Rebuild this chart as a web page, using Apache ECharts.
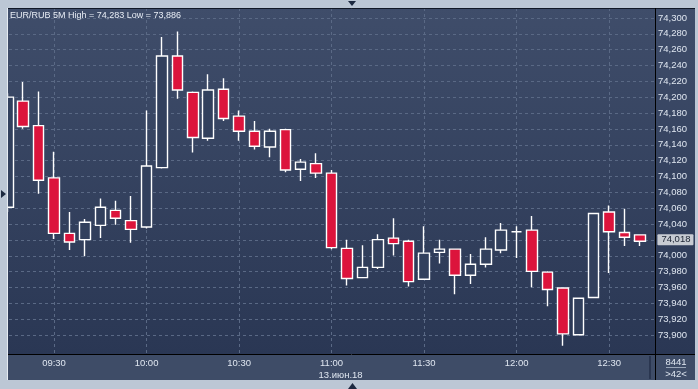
<!DOCTYPE html>
<html><head><meta charset="utf-8">
<script src="https://cdn.jsdelivr.net/npm/echarts@6/dist/echarts.min.js"></script>
<style>html,body{margin:0;padding:0;background:#bcc7d5;}#c{width:698px;height:389px;}</style>
</head><body><div id="c"></div>
<script>
// ---- data ----
const symbolName = 'EUR/RUB 5M';
const dateLabel = '13.июн.18';
const dateLabelAt = '11:00';
const times = ['09:15','09:20','09:25','09:30','09:35','09:40','09:45','09:50','09:55','10:00',
  '10:05','10:10','10:15','10:20','10:25','10:30','10:35','10:40','10:45','10:50',
  '10:55','11:00','11:05','11:10','11:15','11:20','11:25','11:30','11:35','11:40',
  '11:45','11:50','11:55','12:00','12:05','12:10','12:15','12:20','12:25','12:30',
  '12:35','12:40'];
const opens  = [74.061,74.195,74.164,74.098,74.028,74.020,74.038,74.057,74.044,74.036,
  74.111,74.252,74.206,74.148,74.210,74.176,74.157,74.137,74.159,74.109,
  74.116,74.104,74.009,73.972,73.985,74.022,74.018,73.970,74.004,74.008,
  73.975,73.989,74.007,74.030,74.032,73.979,73.959,73.900,73.947,74.055,
  74.029,74.026];
const closes = [74.200,74.163,74.095,74.028,74.017,74.042,74.061,74.047,74.033,74.113,
  74.252,74.209,74.149,74.209,74.173,74.157,74.138,74.157,74.108,74.118,
  74.104,74.010,73.971,73.985,74.020,74.015,73.967,74.003,74.008,73.975,
  73.989,74.008,74.032,74.030,73.980,73.957,73.901,73.946,74.053,74.030,
  74.023,74.018];
const lows   = [74.055,74.160,74.078,74.021,74.007,73.999,74.022,74.039,74.016,74.034,
  74.110,74.198,74.130,74.145,74.170,74.145,74.134,74.124,74.105,74.094,
  74.098,74.008,73.962,73.972,73.983,74.000,73.961,73.970,73.990,73.951,
  73.964,73.985,74.003,73.997,73.960,73.936,73.886,73.900,73.947,73.978,
  74.012,74.012];
const highs  = [74.205,74.219,74.207,74.131,74.055,74.046,74.072,74.069,74.075,74.183,
  74.276,74.283,74.207,74.229,74.224,74.183,74.170,74.160,74.160,74.122,
  74.129,74.108,74.020,74.013,74.027,74.047,74.020,74.037,74.020,74.008,
  74.002,74.023,74.041,74.037,74.050,73.980,73.959,73.946,74.053,74.063,
  74.059,74.026];
const xTickLabels = ['09:30','10:00','10:30','11:00','11:30','12:00','12:30'];
const yTickMin = 73.9, yTickMax = 74.3, yTickStep = 0.02;
const xOrigin = '09:00', xEnd = '12:45';
const yViewMin = 73.8756, yViewMax = 74.3126;
const volumeText = '8441';

// ---- helpers ----
function minutes(t) {
  const p = t.split(':').map(Number);
  const o = xOrigin.split(':').map(Number);
  return (p[0]*60 + p[1]) - (o[0]*60 + o[1]);
}
function fmt(v) { return v.toFixed(3).replace('.', ','); }
function pad(n) { return (n < 10 ? '0' : '') + n; }
function hhmm(v) {
  const o = xOrigin.split(':').map(Number);
  const tot = Math.round(o[0]*60 + o[1] + v);
  return pad(Math.floor(tot/60)) + ':' + pad(tot % 60);
}

const source = times.map((t, i) => [minutes(t), opens[i], closes[i], lows[i], highs[i]]);
const hi = Math.max.apply(null, highs), lo = Math.min.apply(null, lows);
const lastClose = closes[closes.length-1];

const FONT = 'Liberation Sans, Arial, sans-serif';
const grad = {type:'linear', x:0, y:0, x2:0, y2:1, colorStops:[
  {offset:0, color:'#3f4d6a'}, {offset:1, color:'#2a3754'}]};
const BORDER = '#bcc7d5';

const chart = echarts.init(document.getElementById('c'));
chart.setOption({
  backgroundColor: BORDER,
  animation: false,
  textStyle: {fontFamily: FONT},
  title: {
    text: symbolName + ' High = ' + fmt(hi) + ' Low = ' + fmt(lo),
    left: 9, top: 8, padding: [3, 0, 0, 1],
    textStyle: {color:'#e8edf5', fontSize: 9, fontWeight:'normal', fontFamily: FONT}
  },
  grid: [
    {left: -38.5, right: 42.6, top: 8, bottom: 35, containLabel: false, outerBoundsMode: 'none'},
    {left: 9, right: 43, top: 18, bottom: 54, containLabel: false, outerBoundsMode: 'none'}
  ],
  dataset: {source: source},
  xAxis: [
    {
      type: 'value', gridIndex: 0, min: 0, max: minutes(xEnd), interval: 30,
      axisLine: {show: false}, axisTick: {show: false},
      splitLine: {show: true, lineStyle: {color: '#5a6985', type: [3, 3], width: 1}},
      axisLabel: {
        color: '#dfe6f0', fontSize: 9.5, margin: 3, fontFamily: FONT, lineHeight: 12,
        showMinLabel: false, showMaxLabel: false, hideOverlap: false,
        formatter: function (v) {
          const t = hhmm(v);
          if (xTickLabels.indexOf(t) < 0) return '';
          return t === dateLabelAt ? t + '\n{d|' + dateLabel + '}' : t;
        },
        rich: {d: {color:'#dfe6f0', fontSize: 9.5, fontFamily: FONT, lineHeight: 12, padding: [0,0,0,18]}}
      }
    },
    {type: 'value', gridIndex: 1, show: false, min: 0, max: 1}
  ],
  yAxis: [
    {type: 'value', gridIndex: 0, min: yViewMin, max: yViewMax, show: false},
    {
      type: 'value', gridIndex: 1, position: 'right',
      min: yTickMin, max: yTickMax, interval: yTickStep,
      axisLine: {show: false}, axisTick: {show: false},
      splitLine: {show: true, lineStyle: {color: '#5a6985', type: [3, 3], width: 1}},
      axisLabel: {color: '#dfe6f0', fontSize: 9.5, margin: 3, fontFamily: FONT,
        formatter: function (v) { return fmt(v); }}
    }
  ],
  series: [{
    type: 'candlestick', xAxisIndex: 0, yAxisIndex: 0,
    encode: {x: 0, y: [1, 2, 3, 4]},
    barWidth: 11, clip: false,
    itemStyle: {
      color: '#32405d', color0: '#dc143c',
      borderColor: '#ffffff', borderColor0: '#ffffff', borderWidth: 1.4
    },
    markLine: {
      silent: true, symbol: ['none', 'none'], animation: false,
      lineStyle: {color: 'rgba(0,0,0,0)', width: 0},
      label: {
        show: true, position: 'end', distance: 2, formatter: function () { return fmt(lastClose); },
        backgroundColor: '#c7cbd2', color: '#1a2232', fontSize: 9.5, fontFamily: FONT,
        padding: [1, 3, 0, 4], borderRadius: 1
      },
      data: [{yAxis: lastClose}]
    }
  }],
  graphic: [
    {type:'rect', z:-10, silent:true, shape:{x:8, y:8, width:687, height:346}, style:{fill: grad}},
    {type:'rect', z:-10, silent:true, shape:{x:8, y:355, width:687, height:25}, style:{fill:'#3e4c67'}},
    {type:'rect', z:90, silent:true, shape:{x:0, y:0, width:7.5, height:389}, style:{fill: BORDER}},
    {type:'line', z:100, silent:true, shape:{x1:8, y1:8.5, x2:695, y2:8.5}, style:{stroke:'#111826', lineWidth:1}},
    {type:'line', z:100, silent:true, shape:{x1:8, y1:354.5, x2:695, y2:354.5}, style:{stroke:'#000000', lineWidth:1}},
    {type:'line', z:100, silent:true, shape:{x1:655.5, y1:8, x2:655.5, y2:380}, style:{stroke:'#000000', lineWidth:1}},
    {type:'line', z:100, silent:true, shape:{x1:7.5, y1:8, x2:7.5, y2:380}, style:{stroke:'#e6ebf1', lineWidth:1}},
    {type:'line', z:100, silent:true, shape:{x1:650, y1:356, x2:650, y2:379}, style:{stroke:'#2a3650', lineWidth:2}},
    {type:'line', z:100, silent:true, shape:{x1:666, y1:367.5, x2:686, y2:367.5}, style:{stroke:'#9aa6b8', lineWidth:1}},
    {type:'text', z:100, silent:true, x:676, y:362, style:{text: volumeText, fill:'#dfe6f0', font:'9.5px ' + FONT, align:'center', verticalAlign:'middle', textAlign:'center', textVerticalAlign:'middle'}},
    {type:'text', z:100, silent:true, x:676, y:374.5, style:{text: '>' + times.length + '<', fill:'#dfe6f0', font:'9.5px ' + FONT, align:'center', verticalAlign:'middle', textAlign:'center', textVerticalAlign:'middle'}},
    {type:'polygon', z:100, silent:true, shape:{points:[[348,1],[356,1],[352,6]]}, style:{fill:'#1c2940'}},
    {type:'polygon', z:100, silent:true, shape:{points:[[348,389],[357,389],[352.5,383]]}, style:{fill:'#1c2940'}},
    {type:'polygon', z:100, silent:true, shape:{points:[[1,190],[1,198],[6,194]]}, style:{fill:'#1c2940'}}
  ]
});
</script>
</body></html>
